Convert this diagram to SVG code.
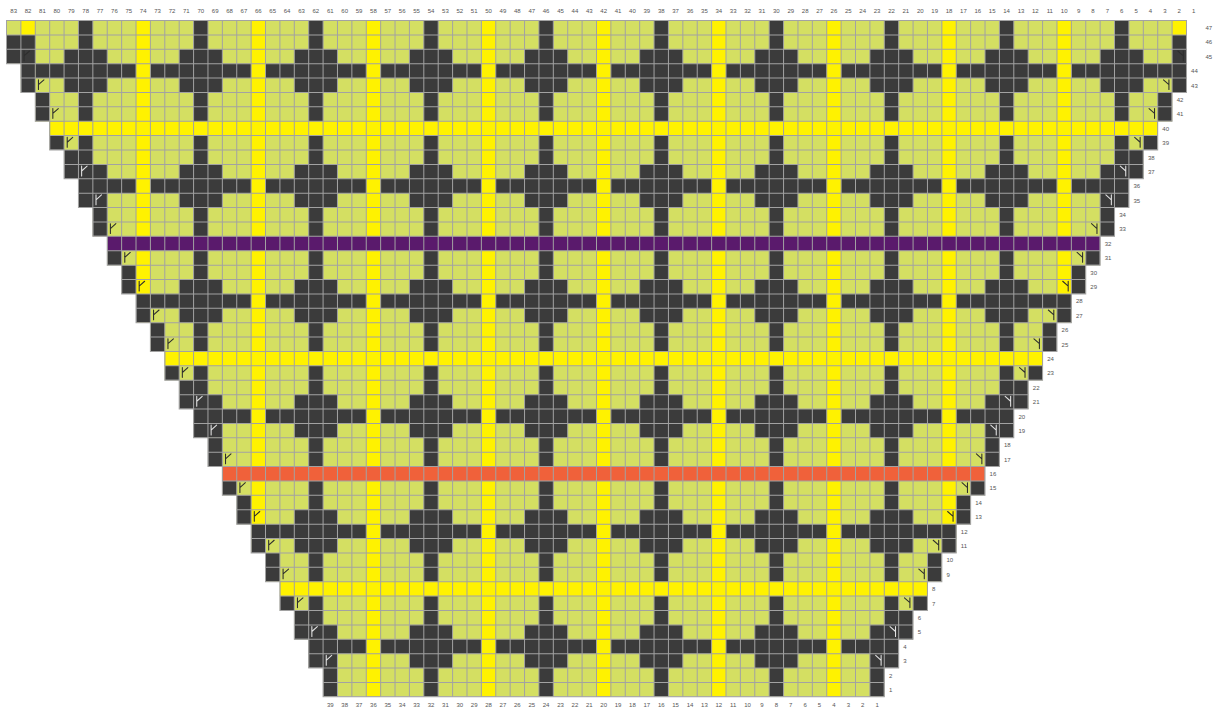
<svg xmlns="http://www.w3.org/2000/svg" width="1215" height="711" viewBox="0 0 1215 711">
<style>
.lbl{font-family:"Liberation Sans",Arial,sans-serif;font-size:0.42px;fill:#555}
.mid{text-anchor:middle}
.dk{fill:#3b3b3b}
.ye{fill:#fff200}
.s{fill:none;stroke:#2e2e2e;stroke-width:0.075;stroke-linecap:round}
.w{stroke:#e2e2e2}
.gl{fill:none;stroke:#a2a2a2;stroke-dasharray:0.07 0.93;stroke-dashoffset:0.035}
</style>
<defs>
<path id="shape" d="M0,0V3h1v2h1v2h1v2h1v2h1v2h1v2h1v2h1v2h1v2h1v2h1v2h1v2h1v2h1v2h1v2h1v2h1v2h1v2h1v2h1v2h1v2h1v2H61v-2h1v-2h1v-2h1v-2h1v-2h1v-2h1v-2h1v-2h1v-2h1v-2h1v-2h1v-2h1v-2h1v-2h1v-2h1v-2h1v-2h1v-2h1v-2h1v-2h1v-2h1V0Z"/>
<clipPath id="cp"><use href="#shape"/></clipPath>
<path id="lb" d="M0,1V3h1v2h1v2h1v2h1v2h1v2h1v2h1v2h1v2h1v2h1v2h1v2h1v2h1v2h1v2h1v2h1v2h1v2h1v2h1v2h1v2h1v2h1v2h1v-2h-1v-2h-1v-2h-1v-2h-1v-2h-1v-2h-1v-2h-1v-2h-1v-2h-1v-2h-1v-2h-1v-2h-1v-2h-1v-2h-1v-2h-1v-2h-1v-2h-1v-2h-1v-2h-1v-2h-1v-2h-1V1Z"/>
<g id="cr">
<rect x="4" width="3" height="3"/><rect x="12" width="3" height="3"/><rect x="20" width="3" height="3"/><rect x="28" width="3" height="3"/><rect x="36" width="3" height="3"/><rect x="44" width="3" height="3"/><rect x="52" width="3" height="3"/><rect x="60" width="3" height="3"/><rect x="68" width="3" height="3"/><rect x="76" width="3" height="3"/>
</g>
<path id="yl" d="M0.22,0.12V0.8M0.22,0.46L0.6,0.12"/>
<path id="yr" d="M0.78,0.12V0.8M0.78,0.46L0.4,0.12"/>
</defs>
<rect width="1215" height="711" fill="#ffffff"/>
<g id="chart" transform="translate(6.5,20.5) scale(14.39)">
<g id="cells" clip-path="url(#cp)">
<rect width="83" height="47" fill="#d4df62"/>
<g id="dark-rows" class="dk">
<rect y="3" width="83" height="1"/><rect y="11" width="83" height="1"/><rect y="19" width="83" height="1"/><rect y="27" width="83" height="1"/><rect y="35" width="83" height="1"/><rect y="43" width="83" height="1"/>
</g>
<g id="yellow-cols" class="ye">
<rect x="1" width="1" height="47"/><rect x="9" width="1" height="47"/><rect x="17" width="1" height="47"/><rect x="25" width="1" height="47"/><rect x="33" width="1" height="47"/><rect x="41" width="1" height="47"/><rect x="49" width="1" height="47"/><rect x="57" width="1" height="47"/><rect x="65" width="1" height="47"/><rect x="73" width="1" height="47"/><rect x="81" width="1" height="47"/>
</g>
<g id="dark-cols" class="dk">
<rect x="5" width="1" height="47"/><rect x="13" width="1" height="47"/><rect x="21" width="1" height="47"/><rect x="29" width="1" height="47"/><rect x="37" width="1" height="47"/><rect x="45" width="1" height="47"/><rect x="53" width="1" height="47"/><rect x="61" width="1" height="47"/><rect x="69" width="1" height="47"/><rect x="77" width="1" height="47"/>
<use href="#cr" y="2"/><use href="#cr" y="10"/><use href="#cr" y="18"/><use href="#cr" y="26"/><use href="#cr" y="34"/><use href="#cr" y="42"/>
</g>
<g id="edges" class="dk">
<use href="#lb"/><use href="#lb" transform="matrix(-1 0 0 1 83 0)"/>
</g>
<g id="special-rows">
<rect class="ye" y="7" width="83" height="1"/>
<rect fill="#5a1a6c" y="15" width="83" height="1"/>
<rect class="ye" y="23" width="83" height="1"/>
<rect fill="#f0613a" y="31" width="83" height="1"/>
<rect class="ye" y="39" width="83" height="1"/>
</g>
<g id="symbols">
<use class="s" href="#yl" x="1" y="2"/><use class="s" href="#yl" x="2" y="4"/><use class="s" href="#yl" x="3" y="6"/><use class="s" href="#yl" x="4" y="8"/><use class="s w" href="#yl" x="5" y="10"/><use class="s w" href="#yl" x="6" y="12"/><use class="s" href="#yl" x="7" y="14"/><use class="s" href="#yl" x="8" y="16"/><use class="s" href="#yl" x="9" y="18"/><use class="s" href="#yl" x="10" y="20"/><use class="s" href="#yl" x="11" y="22"/><use class="s" href="#yl" x="12" y="24"/><use class="s w" href="#yl" x="13" y="26"/><use class="s w" href="#yl" x="14" y="28"/><use class="s" href="#yl" x="15" y="30"/><use class="s" href="#yl" x="16" y="32"/><use class="s" href="#yl" x="17" y="34"/><use class="s" href="#yl" x="18" y="36"/><use class="s" href="#yl" x="19" y="38"/><use class="s" href="#yl" x="20" y="40"/><use class="s w" href="#yl" x="21" y="42"/><use class="s w" href="#yl" x="22" y="44"/>
<use class="s" href="#yr" x="81" y="2"/><use class="s" href="#yr" x="80" y="4"/><use class="s" href="#yr" x="79" y="6"/><use class="s" href="#yr" x="78" y="8"/><use class="s w" href="#yr" x="77" y="10"/><use class="s w" href="#yr" x="76" y="12"/><use class="s" href="#yr" x="75" y="14"/><use class="s" href="#yr" x="74" y="16"/><use class="s" href="#yr" x="73" y="18"/><use class="s" href="#yr" x="72" y="20"/><use class="s" href="#yr" x="71" y="22"/><use class="s" href="#yr" x="70" y="24"/><use class="s w" href="#yr" x="69" y="26"/><use class="s w" href="#yr" x="68" y="28"/><use class="s" href="#yr" x="67" y="30"/><use class="s" href="#yr" x="66" y="32"/><use class="s" href="#yr" x="65" y="34"/><use class="s" href="#yr" x="64" y="36"/><use class="s" href="#yr" x="63" y="38"/><use class="s" href="#yr" x="62" y="40"/><use class="s w" href="#yr" x="61" y="42"/><use class="s w" href="#yr" x="60" y="44"/>
</g>
<g id="grid">
<path class="gl" d="M-1,23.5H84" stroke-width="48"/>
<path class="gl" d="M41.5,-1V48" stroke-width="84"/>
</g>
</g>
<use href="#shape" fill="none" stroke="#a2a2a2" stroke-width="0.07"/>
<g id="col-labels-top" class="lbl mid">
<text x="0.5" y="-0.5">83</text><text x="1.5" y="-0.5">82</text><text x="2.5" y="-0.5">81</text><text x="3.5" y="-0.5">80</text><text x="4.5" y="-0.5">79</text><text x="5.5" y="-0.5">78</text><text x="6.5" y="-0.5">77</text><text x="7.5" y="-0.5">76</text><text x="8.5" y="-0.5">75</text><text x="9.5" y="-0.5">74</text><text x="10.5" y="-0.5">73</text><text x="11.5" y="-0.5">72</text><text x="12.5" y="-0.5">71</text><text x="13.5" y="-0.5">70</text><text x="14.5" y="-0.5">69</text><text x="15.5" y="-0.5">68</text><text x="16.5" y="-0.5">67</text><text x="17.5" y="-0.5">66</text><text x="18.5" y="-0.5">65</text><text x="19.5" y="-0.5">64</text><text x="20.5" y="-0.5">63</text><text x="21.5" y="-0.5">62</text><text x="22.5" y="-0.5">61</text><text x="23.5" y="-0.5">60</text><text x="24.5" y="-0.5">59</text><text x="25.5" y="-0.5">58</text><text x="26.5" y="-0.5">57</text><text x="27.5" y="-0.5">56</text><text x="28.5" y="-0.5">55</text><text x="29.5" y="-0.5">54</text><text x="30.5" y="-0.5">53</text><text x="31.5" y="-0.5">52</text><text x="32.5" y="-0.5">51</text><text x="33.5" y="-0.5">50</text><text x="34.5" y="-0.5">49</text><text x="35.5" y="-0.5">48</text><text x="36.5" y="-0.5">47</text><text x="37.5" y="-0.5">46</text><text x="38.5" y="-0.5">45</text><text x="39.5" y="-0.5">44</text><text x="40.5" y="-0.5">43</text><text x="41.5" y="-0.5">42</text><text x="42.5" y="-0.5">41</text><text x="43.5" y="-0.5">40</text><text x="44.5" y="-0.5">39</text><text x="45.5" y="-0.5">38</text><text x="46.5" y="-0.5">37</text><text x="47.5" y="-0.5">36</text><text x="48.5" y="-0.5">35</text><text x="49.5" y="-0.5">34</text><text x="50.5" y="-0.5">33</text><text x="51.5" y="-0.5">32</text><text x="52.5" y="-0.5">31</text><text x="53.5" y="-0.5">30</text><text x="54.5" y="-0.5">29</text><text x="55.5" y="-0.5">28</text><text x="56.5" y="-0.5">27</text><text x="57.5" y="-0.5">26</text><text x="58.5" y="-0.5">25</text><text x="59.5" y="-0.5">24</text><text x="60.5" y="-0.5">23</text><text x="61.5" y="-0.5">22</text><text x="62.5" y="-0.5">21</text><text x="63.5" y="-0.5">20</text><text x="64.5" y="-0.5">19</text><text x="65.5" y="-0.5">18</text><text x="66.5" y="-0.5">17</text><text x="67.5" y="-0.5">16</text><text x="68.5" y="-0.5">15</text><text x="69.5" y="-0.5">14</text><text x="70.5" y="-0.5">13</text><text x="71.5" y="-0.5">12</text><text x="72.5" y="-0.5">11</text><text x="73.5" y="-0.5">10</text><text x="74.5" y="-0.5">9</text><text x="75.5" y="-0.5">8</text><text x="76.5" y="-0.5">7</text><text x="77.5" y="-0.5">6</text><text x="78.5" y="-0.5">5</text><text x="79.5" y="-0.5">4</text><text x="80.5" y="-0.5">3</text><text x="81.5" y="-0.5">2</text><text x="82.5" y="-0.5">1</text>
</g>
<g id="col-labels-bottom" class="lbl mid">
<text x="22.5" y="47.72">39</text><text x="23.5" y="47.72">38</text><text x="24.5" y="47.72">37</text><text x="25.5" y="47.72">36</text><text x="26.5" y="47.72">35</text><text x="27.5" y="47.72">34</text><text x="28.5" y="47.72">33</text><text x="29.5" y="47.72">32</text><text x="30.5" y="47.72">31</text><text x="31.5" y="47.72">30</text><text x="32.5" y="47.72">29</text><text x="33.5" y="47.72">28</text><text x="34.5" y="47.72">27</text><text x="35.5" y="47.72">26</text><text x="36.5" y="47.72">25</text><text x="37.5" y="47.72">24</text><text x="38.5" y="47.72">23</text><text x="39.5" y="47.72">22</text><text x="40.5" y="47.72">21</text><text x="41.5" y="47.72">20</text><text x="42.5" y="47.72">19</text><text x="43.5" y="47.72">18</text><text x="44.5" y="47.72">17</text><text x="45.5" y="47.72">16</text><text x="46.5" y="47.72">15</text><text x="47.5" y="47.72">14</text><text x="48.5" y="47.72">13</text><text x="49.5" y="47.72">12</text><text x="50.5" y="47.72">11</text><text x="51.5" y="47.72">10</text><text x="52.5" y="47.72">9</text><text x="53.5" y="47.72">8</text><text x="54.5" y="47.72">7</text><text x="55.5" y="47.72">6</text><text x="56.5" y="47.72">5</text><text x="57.5" y="47.72">4</text><text x="58.5" y="47.72">3</text><text x="59.5" y="47.72">2</text><text x="60.5" y="47.72">1</text>
</g>
<g id="row-labels" class="lbl">
<text x="83.32" y="0.66">47</text><text x="83.32" y="1.66">46</text><text x="83.32" y="2.66">45</text><text x="82.32" y="3.66">44</text><text x="82.32" y="4.66">43</text><text x="81.32" y="5.66">42</text><text x="81.32" y="6.66">41</text><text x="80.32" y="7.66">40</text><text x="80.32" y="8.66">39</text><text x="79.32" y="9.66">38</text><text x="79.32" y="10.66">37</text><text x="78.32" y="11.66">36</text><text x="78.32" y="12.66">35</text><text x="77.32" y="13.66">34</text><text x="77.32" y="14.66">33</text><text x="76.32" y="15.66">32</text><text x="76.32" y="16.66">31</text><text x="75.32" y="17.66">30</text><text x="75.32" y="18.66">29</text><text x="74.32" y="19.66">28</text><text x="74.32" y="20.66">27</text><text x="73.32" y="21.66">26</text><text x="73.32" y="22.66">25</text><text x="72.32" y="23.66">24</text><text x="72.32" y="24.66">23</text><text x="71.32" y="25.66">22</text><text x="71.32" y="26.66">21</text><text x="70.32" y="27.66">20</text><text x="70.32" y="28.66">19</text><text x="69.32" y="29.66">18</text><text x="69.32" y="30.66">17</text><text x="68.32" y="31.66">16</text><text x="68.32" y="32.66">15</text><text x="67.32" y="33.66">14</text><text x="67.32" y="34.66">13</text><text x="66.32" y="35.66">12</text><text x="66.32" y="36.66">11</text><text x="65.32" y="37.66">10</text><text x="65.32" y="38.66">9</text><text x="64.32" y="39.66">8</text><text x="64.32" y="40.66">7</text><text x="63.32" y="41.66">6</text><text x="63.32" y="42.66">5</text><text x="62.32" y="43.66">4</text><text x="62.32" y="44.66">3</text><text x="61.32" y="45.66">2</text><text x="61.32" y="46.66">1</text>
</g>
</g>
</svg>
